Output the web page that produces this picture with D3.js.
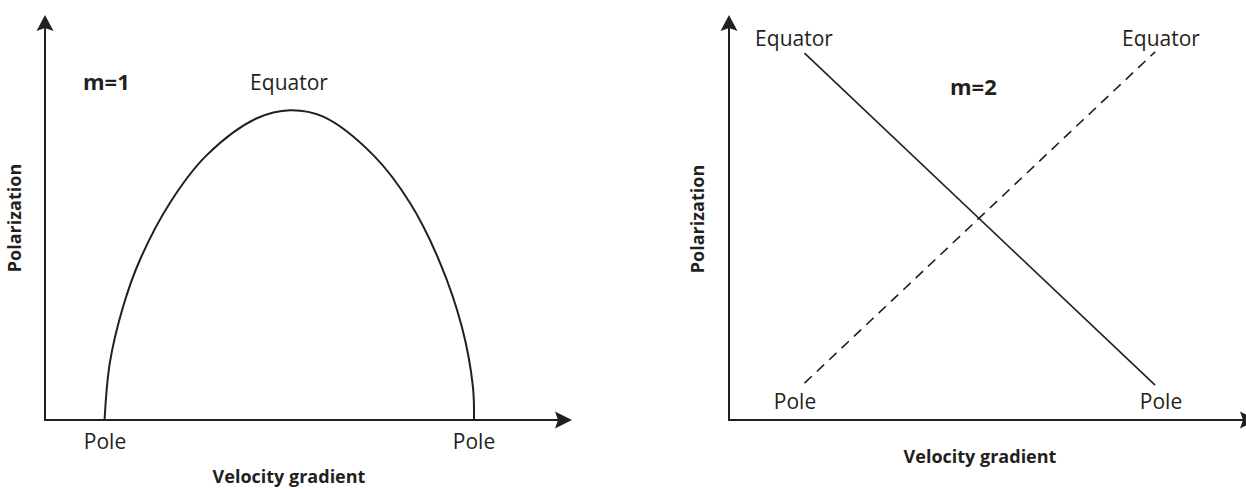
<!DOCTYPE html>
<html>
<head>
<meta charset="utf-8">
<script src="https://cdn.jsdelivr.net/npm/d3@7"></script>
<style>
  body { margin: 0; background: #fff; }
  text { font-family: "Open Sans", sans-serif; fill: #231f20; }
  .lbl { font-size: 21px; }
  .tag { font-size: 22px; font-weight: bold; }
  .ax { font-size: 18px; font-weight: bold; }
</style>
</head>
<body>
<div class="grafico"></div>
<script>
/* Curva m=1 (unidades 0-100 en ambos ejes) */
const m1Gradient = [11.3, 12.3, 14.8, 18.0, 23.7, 30.7, 40.2, 46.5, 52.8, 62.3, 69.3, 75.0, 79.1, 81.2, 81.4];
const m1Polar = [0, 14.1, 27.9, 39.5, 53.6, 65.4, 74.5, 76.5, 74.9, 65.4, 53.5, 38.7, 23.0, 8.2, 0];

/* Rectas m=2 */
const m2Gradient = [14.3, 80.7];
const m2Equator = [90.6, 8.6];   // línea continua
const m2Pole = [9.1, 90.9];      // línea discontinua

const w = 1246;
const h = 489;
const ink = '#231f20';

const svg = d3.select('.grafico')
  .append('svg')
  .attr('width', w)
  .attr('height', h);

const y = d3.scaleLinear().domain([0, 100]).range([420, 15]);
const xLeft = d3.scaleLinear().domain([0, 100]).range([45, 572]);
const xRight = d3.scaleLinear().domain([0, 100]).range([729, 1257]);

/*Ejes con flecha*/
const drawAxes = (x) => {
  const g = svg.append('g');
  const x0 = x(0), x1 = x(100), y0 = y(0), y1 = y(100);
  g.append('path')
    .attr('d', `M${x0},${y1 + 10}V${y0}H${x1 - 10}`)
    .attr('fill', 'none')
    .attr('stroke', ink)
    .attr('stroke-width', 2);
  // flecha vertical
  g.append('path')
    .attr('d', `M${x0},${y1}L${x0 + 8.5},${y1 + 16}L${x0},${y1 + 13}L${x0 - 8.5},${y1 + 16}Z`)
    .attr('fill', ink);
  // flecha horizontal
  g.append('path')
    .attr('d', `M${x1},${y0}L${x1 - 17},${y0 + 8.5}L${x1 - 14},${y0}L${x1 - 17},${y0 - 8.5}Z`)
    .attr('fill', ink);
};

drawAxes(xLeft);
drawAxes(xRight);

/*Panel izquierdo: m=1*/
const m1 = m1Gradient.map((g, i) => ({ g, p: m1Polar[i] }));
svg.append('path')
  .datum(m1)
  .attr('d', d3.line().x(d => xLeft(d.g)).y(d => y(d.p)).curve(d3.curveCatmullRom.alpha(0.5)))
  .attr('fill', 'none')
  .attr('stroke', ink)
  .attr('stroke-width', 2);

/*Panel derecho: m=2*/
const eq = m2Gradient.map((g, i) => ({ g, p: m2Equator[i] }));
const po = m2Gradient.map((g, i) => ({ g, p: m2Pole[i] }));
const lineR = d3.line().x(d => xRight(d.g)).y(d => y(d.p));

svg.append('path')
  .datum(eq)
  .attr('d', lineR)
  .attr('fill', 'none')
  .attr('stroke', ink)
  .attr('stroke-width', 1.6);

svg.append('path')
  .datum(po)
  .attr('d', lineR)
  .attr('fill', 'none')
  .attr('stroke', ink)
  .attr('stroke-width', 1.6)
  .attr('stroke-dasharray', '10,7');

/*Textos*/
const labels = [
  { t: 'm=1', x: 83, y: 90, cls: 'tag', a: 'start' },
  { t: 'Equator', x: 289, y: 90, cls: 'lbl', a: 'middle' },
  { t: 'Pole', x: 105, y: 449, cls: 'lbl', a: 'middle' },
  { t: 'Pole', x: 474, y: 449, cls: 'lbl', a: 'middle' },
  { t: 'Velocity gradient', x: 289, y: 483, cls: 'ax', a: 'middle' },
  { t: 'Equator', x: 794, y: 46, cls: 'lbl', a: 'middle' },
  { t: 'Equator', x: 1161, y: 46, cls: 'lbl', a: 'middle' },
  { t: 'm=2', x: 950, y: 95, cls: 'tag', a: 'start' },
  { t: 'Pole', x: 795, y: 409, cls: 'lbl', a: 'middle' },
  { t: 'Pole', x: 1161, y: 409, cls: 'lbl', a: 'middle' },
  { t: 'Velocity gradient', x: 980, y: 463, cls: 'ax', a: 'middle' }
];

svg.selectAll('text.l')
  .data(labels)
  .join('text')
  .attr('class', d => 'l ' + d.cls)
  .attr('x', d => d.x)
  .attr('y', d => d.y)
  .attr('text-anchor', d => d.a)
  .text(d => d.t);

[[21, 218], [704, 219]].forEach(([tx, ty]) => {
  svg.append('text')
    .attr('class', 'ax')
    .attr('text-anchor', 'middle')
    .attr('transform', `translate(${tx},${ty}) rotate(-90)`)
    .text('Polarization');
});
</script>
</body>
</html>
